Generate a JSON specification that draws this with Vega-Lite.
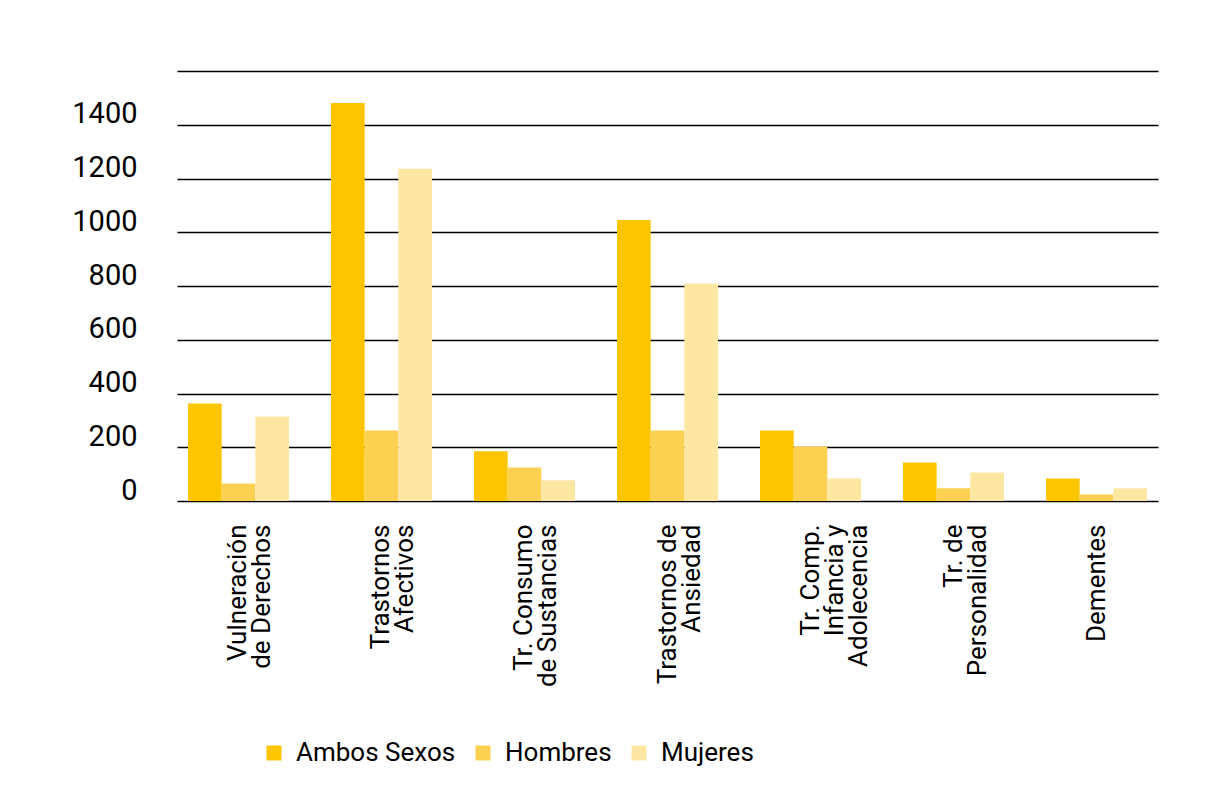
{
  "$schema": "https://vega.github.io/schema/vega-lite/v6.json",
  "width": 981,
  "height": 430,
  "autosize": {"type": "none"},
  "padding": {"left": 177, "top": 71, "right": 49, "bottom": 293},
  "background": "white",
  "config": {"view": {"stroke": null}, "font": "Roboto"},
  "data": {
    "values": [
      {"categoria": "Vulneración|de Derechos", "sexo": "Ambos Sexos", "valor": 363},
      {"categoria": "Vulneración|de Derechos", "sexo": "Hombres", "valor": 65},
      {"categoria": "Vulneración|de Derechos", "sexo": "Mujeres", "valor": 314},
      {"categoria": "Trastornos|Afectivos", "sexo": "Ambos Sexos", "valor": 1481},
      {"categoria": "Trastornos|Afectivos", "sexo": "Hombres", "valor": 262},
      {"categoria": "Trastornos|Afectivos", "sexo": "Mujeres", "valor": 1236},
      {"categoria": "Tr. Consumo|de Sustancias", "sexo": "Ambos Sexos", "valor": 185},
      {"categoria": "Tr. Consumo|de Sustancias", "sexo": "Hombres", "valor": 125},
      {"categoria": "Tr. Consumo|de Sustancias", "sexo": "Mujeres", "valor": 77},
      {"categoria": "Trastornos de|Ansiedad", "sexo": "Ambos Sexos", "valor": 1046},
      {"categoria": "Trastornos de|Ansiedad", "sexo": "Hombres", "valor": 262},
      {"categoria": "Trastornos de|Ansiedad", "sexo": "Mujeres", "valor": 809},
      {"categoria": "Tr. Comp.|Infancia y|Adolecencia", "sexo": "Ambos Sexos", "valor": 262},
      {"categoria": "Tr. Comp.|Infancia y|Adolecencia", "sexo": "Hombres", "valor": 203},
      {"categoria": "Tr. Comp.|Infancia y|Adolecencia", "sexo": "Mujeres", "valor": 84},
      {"categoria": "Tr. de|Personalidad", "sexo": "Ambos Sexos", "valor": 143},
      {"categoria": "Tr. de|Personalidad", "sexo": "Hombres", "valor": 47},
      {"categoria": "Tr. de|Personalidad", "sexo": "Mujeres", "valor": 106},
      {"categoria": "Dementes", "sexo": "Ambos Sexos", "valor": 84},
      {"categoria": "Dementes", "sexo": "Hombres", "valor": 24},
      {"categoria": "Dementes", "sexo": "Mujeres", "valor": 47}
    ]
  },
  "mark": {"type": "bar"},
  "encoding": {
    "x": {
      "field": "categoria",
      "type": "nominal",
      "sort": null,
      "scale": {"paddingInner": 0.294, "paddingOuter": 0.077},
      "axis": {
        "title": null,
        "labelAngle": -90,
        "labelAlign": "right",
        "labelBaseline": "middle",
        "labelExpr": "split(datum.label, '|')",
        "ticks": false,
        "domain": false,
        "grid": false,
        "labelPadding": 23,
        "labelFont": "Roboto",
        "labelFontSize": 26,
        "labelLineHeight": 24,
        "labelColor": "#000000",
        "labelLimit": 0
      }
    },
    "xOffset": {
      "field": "sexo",
      "type": "nominal",
      "sort": ["Ambos Sexos", "Hombres", "Mujeres"],
      "scale": {"paddingInner": 0, "paddingOuter": 0}
    },
    "y": {
      "field": "valor",
      "type": "quantitative",
      "scale": {"domain": [0, 1600], "nice": false},
      "axis": {
        "title": null,
        "values": [0, 200, 400, 600, 800, 1000, 1200, 1400, 1600],
        "format": "d",
        "labelExpr": "datum.value == 1600 ? '' : datum.label",
        "domain": false,
        "ticks": false,
        "grid": true,
        "gridColor": "#000000",
        "gridWidth": 1.3,
        "gridOpacity": 1,
        "labelPadding": 40,
        "labelOffset": -11,
        "labelFont": "Roboto",
        "labelFontSize": 29,
        "labelColor": "#000000"
      }
    },
    "color": {
      "field": "sexo",
      "type": "nominal",
      "scale": {
        "domain": ["Ambos Sexos", "Hombres", "Mujeres"],
        "range": ["#FDC500", "#FCD152", "#FEE7A3"]
      },
      "legend": {
        "title": null,
        "orient": "none",
        "direction": "horizontal",
        "legendX": 84,
        "legendY": 669,
        "symbolType": "square",
        "symbolSize": 225,
        "symbolStrokeWidth": 0,
        "symbolOpacity": 1,
        "labelFont": "Roboto",
        "labelFontSize": 26,
        "labelColor": "#000000",
        "labelOffset": 9,
        "columnPadding": 14,
        "labelLimit": 0
      }
    }
  }
}
